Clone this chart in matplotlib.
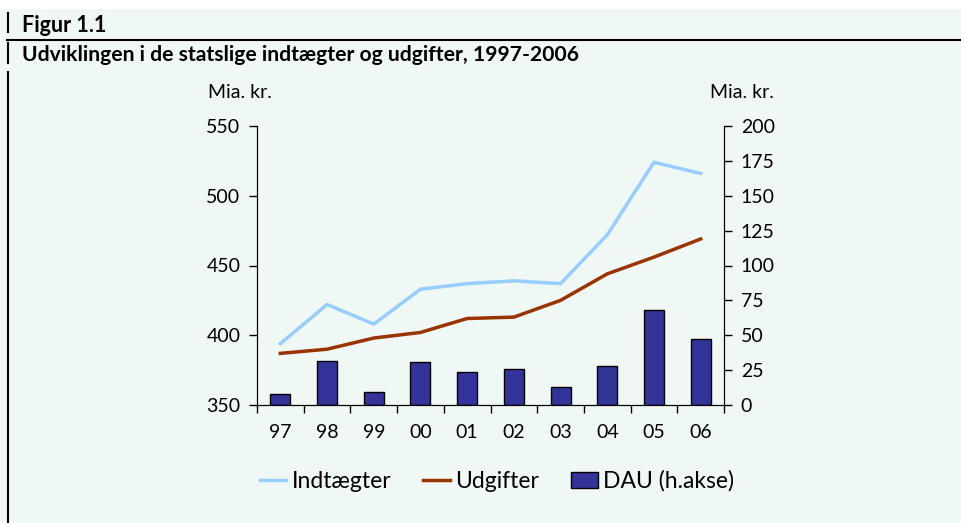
import matplotlib.pyplot as plt
import numpy as np

plt.rcParams['font.family'] = ['Lato', 'DejaVu Sans']

years = ['97', '98', '99', '00', '01', '02', '03', '04', '05', '06']
indtaegter = [394, 422, 408, 433, 437, 439, 437, 472, 524, 516]
udgifter = [387, 390, 398, 402, 412, 413, 425, 444, 456, 469]
dau = [7.7, 31.3, 9.1, 30.6, 23.7, 26.0, 12.7, 28.0, 68.3, 47.3]

bg = '#f0f8f5'
fig = plt.figure(figsize=(9.61, 5.23), dpi=100)
fig.patch.set_facecolor('white')
# mint panel below the white strip at the top
fig.patches.append(plt.Rectangle((0, 0), 1, 1 - 9 / 523, transform=fig.transFigure,
                                 facecolor=bg, edgecolor='none', zorder=0))

# frame lines of the box
fig.add_artist(plt.Line2D([7 / 961, 1], [1 - 39.5 / 523] * 2, color='black', lw=1.5))
for y0, y1 in [(13, 32), (43, 63), (72, 523)]:
    fig.add_artist(plt.Line2D([7.5 / 961] * 2, [1 - y0 / 523, 1 - y1 / 523], color='black', lw=1.5))

fig.text(22 / 961, 1 - 26 / 523, 'Figur 1.1', fontsize=15.5, fontweight='bold', va='center')
fig.text(22 / 961, 1 - 55 / 523, 'Udviklingen i de statslige indtægter og udgifter, 1997-2006',
         fontsize=15.2, fontweight='bold', va='center')

ax = fig.add_axes([257 / 961, 1 - 405 / 523, (724 - 257) / 961, (405 - 126) / 523])
ax.set_facecolor('none')
ax2 = ax.twinx()
ax.set_zorder(2)
ax2.set_zorder(1)

x = np.arange(len(years))
bars = ax2.bar(x, dau, width=0.43, color='#333399', edgecolor='black', linewidth=1)
l1, = ax.plot(x, indtaegter, color='#99ccff', lw=2.5)
l2, = ax.plot(x, udgifter, color='#993300', lw=2.5)

ax.set_xlim(-0.5, 9.5)
ax.set_ylim(350, 550)
ax.set_yticks(np.arange(350, 551, 50))
ax2.set_ylim(0, 200)
ax2.set_yticks(np.arange(0, 201, 25))

ax.set_xticks(x)
ax.set_xticklabels(years)
ax.set_xticks(np.arange(-0.5, 10, 1), minor=True)
ax.tick_params(axis='x', which='major', length=0, pad=14, labelsize=14)
ax.tick_params(axis='x', which='minor', length=6, width=1)
ax.tick_params(axis='y', length=6, width=1, labelsize=14, pad=6)
ax2.tick_params(axis='y', length=6, width=1, labelsize=14, pad=6)

for a in (ax, ax2):
    a.spines['top'].set_visible(False)

fig.text(240 / 961, 1 - 92 / 523, 'Mia. kr.', ha='center', va='center', fontsize=14)
fig.text(742 / 961, 1 - 92 / 523, 'Mia. kr.', ha='center', va='center', fontsize=14)

fig.legend([l1, l2, bars], ['Indtægter', 'Udgifter', 'DAU (h.akse)'], loc='center',
           bbox_to_anchor=(497 / 961, 1 - 481 / 523), ncol=3, frameon=False, fontsize=16.5,
           handlelength=1.15, handletextpad=0.25, columnspacing=1.4)

plt.savefig('out.png', dpi=100, facecolor=fig.get_facecolor())
